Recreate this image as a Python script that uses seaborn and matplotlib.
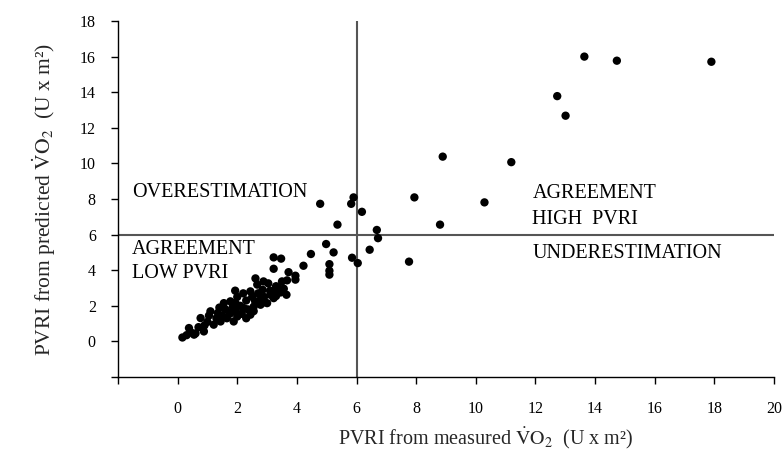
import matplotlib
matplotlib.use("Agg")
import matplotlib.pyplot as plt
import seaborn as sns
import pandas as pd

# measured PVRI (x) and predicted PVRI (y)
x_measured = [13.64, 14.73, 17.90, 12.73, 13.01, 11.19, 10.29,
              8.89, 7.94, 8.80, 5.90, 5.82, 4.78, 6.18, 5.36, 6.68, 6.72, 6.44, 7.76,
              4.98, 5.23, 4.47, 4.22, 5.09, 5.09, 5.09, 5.85, 6.04,
              3.22, 3.47, 3.22, 3.72, 3.95, 3.95, 3.67, 3.50, 3.56, 3.65,
              1.93, 2.61, 2.88, 3.04, 2.44, 2.67, 3.28, 3.39, 3.11, 3.22, 3.00, 2.78,
              2.44, 2.22, 1.88, 1.44, 1.21, 0.88, 0.55, 0.16, 0.38, 0.77, 1.10, 1.55,
              1.77, 1.94,
              0.30, 0.45, 0.60, 0.70, 0.90, 1.00, 1.05, 1.30, 1.35, 1.50, 1.60, 1.65,
              1.75, 1.85, 1.95, 2.00, 2.10, 2.15, 2.30, 2.35, 2.50, 2.55, 2.60, 2.70,
              2.75, 2.85, 2.90, 3.10, 3.30, 3.45, 2.30, 2.00, 2.20, 1.40, 1.80, 2.55,
              2.90, 3.30]
y_predicted = [16.00, 15.77, 15.71, 13.78, 12.68, 10.07, 7.81,
               10.38, 8.09, 6.56, 8.09, 7.73, 7.73, 7.28, 6.56, 6.26, 5.80, 5.15, 4.48,
               5.47, 5.00, 4.91, 4.25, 4.34, 3.97, 3.75, 4.70, 4.40,
               4.72, 4.65, 4.08, 3.89, 3.69, 3.47, 3.43, 3.37, 2.96, 2.62,
               2.85, 3.54, 3.37, 3.26, 2.81, 3.19, 2.90, 2.99, 2.62, 2.43, 2.15, 2.06,
               1.50, 1.87, 1.12, 1.12, 0.94, 0.56, 0.38, 0.22, 0.75, 1.31, 1.69, 2.15,
               2.25, 2.15,
               0.35, 0.50, 0.45, 0.80, 0.90, 1.10, 1.45, 1.30, 1.60, 1.45, 1.80, 1.30,
               1.55, 1.95, 1.75, 1.40, 2.00, 1.55, 2.30, 1.80, 2.50, 1.95, 2.25, 2.70,
               2.30, 2.90, 2.50, 2.85, 2.55, 2.75, 1.30, 2.50, 2.70, 1.90, 1.65, 1.70,
               2.20, 3.10]

x_ticks = [-2, 0, 2, 4, 6, 8, 10, 12, 14, 16, 18, 20]
x_tick_labels = ["", "0", "2", "4", "6", "8", "10", "12", "14", "16", "18", "20"]
y_ticks = [-2, 0, 2, 4, 6, 8, 10, 12, 14, 16, 18]
y_tick_labels = ["", "0", "2", "4", "6", "8", "10", "12", "14", "16", "18"]
cutoff = 6

df = pd.DataFrame({"measured": x_measured, "predicted": y_predicted})

sns.set_style("ticks")
plt.rcParams["font.family"] = ["Liberation Serif", "DejaVu Serif"]
plt.rcParams["mathtext.fontset"] = "stix"

fig = plt.figure(figsize=(7.82, 4.51), dpi=100)
ax = fig.add_axes([118 / 782, 74 / 451, 656 / 782, 356 / 451])

sns.scatterplot(data=df, x="measured", y="predicted", ax=ax, color="black",
                s=36, edgecolor="none", linewidth=0, zorder=3)

ax.axhline(cutoff, color="#555555", lw=1.5, zorder=1)
ax.axvline(cutoff, color="#555555", lw=1.5, zorder=1)

ax.set_xlim(-2, 20)
ax.set_ylim(-2, 18)
ax.set_xticks(x_ticks)
ax.set_xticklabels(x_tick_labels, fontsize=11.5)
ax.set_yticks(y_ticks)
ax.set_yticklabels(y_tick_labels, fontsize=11.5)
ax.tick_params(axis="x", direction="out", length=5, width=1, pad=12, colors="black")
ax.tick_params(axis="y", direction="out", length=5, width=1, pad=11, colors="black")
for s in ["top", "right"]:
    ax.spines[s].set_visible(False)
for s in ["left", "bottom"]:
    ax.spines[s].set_color("black")
    ax.spines[s].set_linewidth(1.0)

ax.set_xlabel(r"PVRI from measured $\dot{\mathrm{V}}\mathrm{O}_2$  (U x m²)", fontsize=14.5)
ax.xaxis.set_label_coords(0.56, -0.135)
ax.set_ylabel(r"PVRI from predicted $\dot{\mathrm{V}}\mathrm{O}_2$  (U x m²)", fontsize=15.5, labelpad=16)

tkw = dict(fontsize=14.5, color="black", va="center", ha="left")
ax.text(-1.54, 8.37, "OVERESTIMATION", **tkw)
ax.text(-1.54, 5.17, "AGREEMENT", **tkw)
ax.text(-1.54, 3.82, "LOW PVRI", **tkw)
ax.text(11.9, 8.30, "AGREEMENT", **tkw)
ax.text(11.9, 6.85, "HIGH  PVRI", **tkw)
ax.text(11.9, 4.94, "UNDERESTIMATION", **tkw)

fig.savefig("out.png", dpi=100)
